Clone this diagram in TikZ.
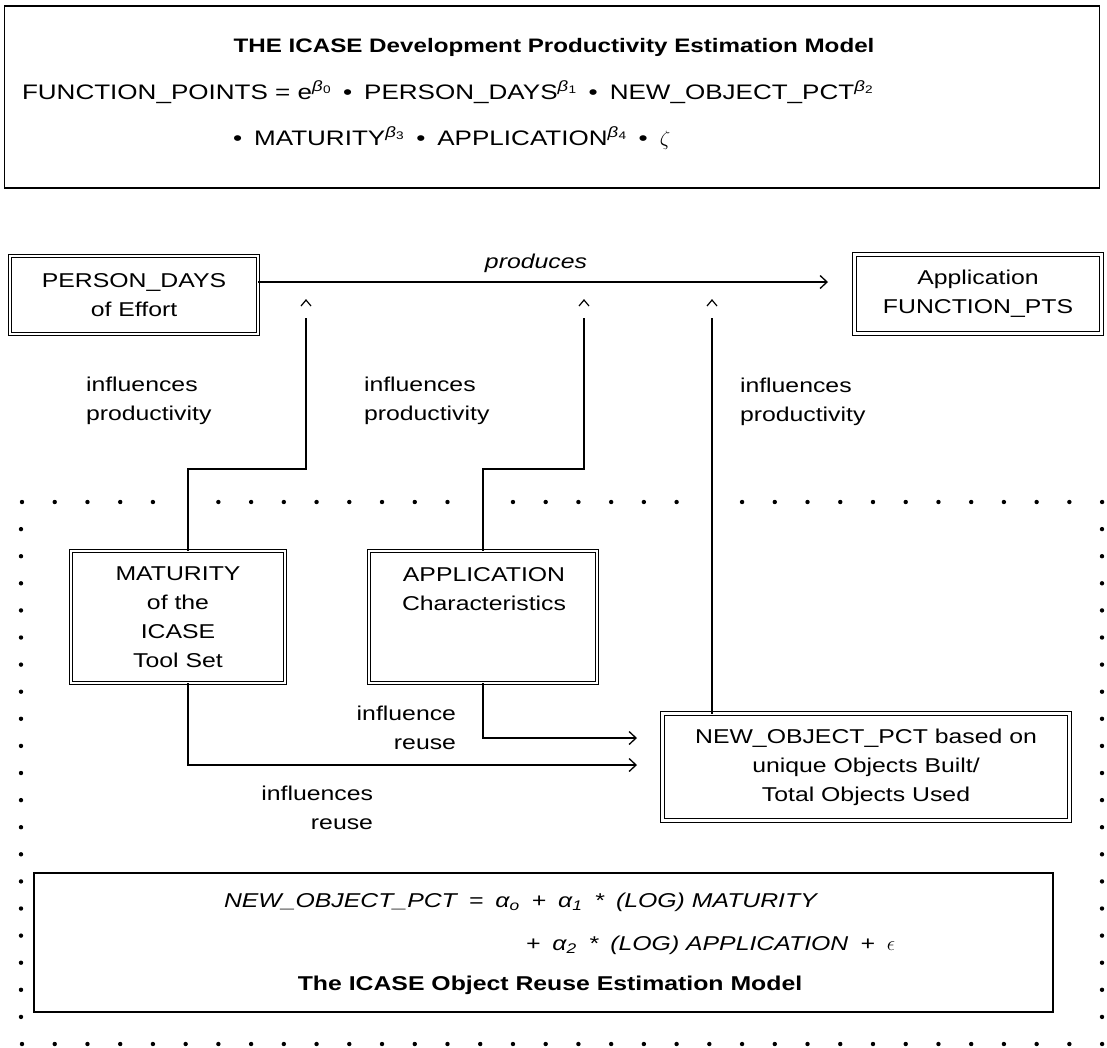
\documentclass[tikz,border=0pt]{standalone}
\usepackage{fontspec}
\setmainfont{Liberation Sans}[FakeStretch=1.24]
\usetikzlibrary{arrows.meta}
\newcommand\bexp[1]{\textsuperscript{\fontsize{15}{15}\selectfont\textit{β}\kern0.3pt\raisebox{-0.3ex}{\fontsize{11}{11}\selectfont #1}}}
\newcommand\asub[1]{\textit{α}\textsubscript{\itshape #1}}
\newcommand\gp{\hspace{12pt}}
\begin{document}
\begin{tikzpicture}[x=1pt,y=-1pt,
  every node/.style={font=\fontsize{20}{29}\selectfont, inner sep=0pt, outer sep=0pt},
  dbox/.style={draw, double, double distance=2.4pt, line width=0.9pt},
  sbox/.style={draw, line width=1.3pt},
  conn/.style={line width=1.3pt},
  arr/.style={line width=1.3pt, -{Straight Barb[length=7pt,width=13pt,line width=1.3pt]}},
  caret/.style={line width=1.2pt, line join=miter},
  itl/.style={font=\fontsize{20}{29}\selectfont\itshape},
  bld/.style={font=\fontsize{20}{29}\selectfont\bfseries},
  fml/.style={font=\fontsize{21}{29}\selectfont},
  dot/.style={fill=black}]
\useasboundingbox (0,0) rectangle (1107,1047);

% ---- top box: development productivity model
\node[sbox, minimum width=1095pt, minimum height=182pt] (tb) at (552,97) {};
\node[anchor=base, font=\fontsize{19.5}{29}\selectfont\bfseries] (title) at (554,52) {THE ICASE Development Productivity Estimation Model};
\node[fml, anchor=base west] (f1) at (22,99) {FUNCTION\_POINTS = e\bexp{0}\gp•\gp PERSON\_DAYS\bexp{1}\gp•\gp NEW\_OBJECT\_PCT\bexp{2}};
\node[fml, anchor=base west] (f2) at (233,145) {•\gp MATURITY\bexp{3}\gp•\gp APPLICATION\bexp{4}\gp•\gp$\zeta$};

% ---- main boxes
\node[dbox, minimum width=248pt, minimum height=78pt, align=center] (pd) at (134,295) {PERSON\_DAYS\\of Effort};
\node[dbox, minimum width=247pt, minimum height=79pt, align=center] (fp) at (978,294) {Application\\FUNCTION\_PTS};
\node[dbox, minimum width=214pt, minimum height=132pt, align=center] (mat) at (178,617) {MATURITY\\of the\\ICASE\\Tool Set};
\node[dbox, minimum width=228pt, minimum height=132pt] (app) at (483,617) {};
\node[align=center] (apptxt) at (484,589) {APPLICATION\\Characteristics};
\node[dbox, minimum width=407pt, minimum height=107pt, align=center] (nop) at (866,767) {NEW\_OBJECT\_PCT based on\\unique Objects Built/\\Total Objects Used};

% ---- bottom box: object reuse model
\node[sbox, minimum width=1019pt, minimum height=139pt] (bb) at (543.5,942.5) {};
\node[itl, anchor=base west] (g1) at (224,907) {NEW\_OBJECT\_PCT\gp=\gp\asub{o}\gp+\gp\asub{1}\gp*\gp(LOG) MATURITY};
\node[itl, anchor=base east] (g2) at (895,950) {+\gp\asub{2}\gp*\gp(LOG) APPLICATION\gp+\gp$\epsilon$};
\node[bld, anchor=base] (g3) at (550,990) {The ICASE Object Reuse Estimation Model};

% ---- helper coordinates
\coordinate (py) at (0,282);
\coordinate (fa) at (828,282);
\coordinate (h1) at (0,469);
\coordinate (mx) at (188,0);
\coordinate (c1) at (306,300);
\coordinate (c2) at (584,300);
\coordinate (c3) at (712,300);
\coordinate (t1) at (637,738);
\coordinate (t2) at (637,765);

% ---- connectors
\draw[arr] (pd.east |- py) -- (fa);
\node[itl, anchor=base] (prod) at (536,268) {produces};

\draw[conn] (mat.north -| mx) -- (mx |- h1) -- (c1 |- h1) -- ([yshift=-18pt]c1);
\draw[conn] (app.north) -- (app.north |- h1) -- (c2 |- h1) -- ([yshift=-18pt]c2);
\draw[conn] (nop.north -| c3) -- ([yshift=-18pt]c3);
\foreach \c in {c1,c2,c3}{
  \draw[caret] ([xshift=-5pt,yshift=-6pt]\c) -- (\c) -- ([xshift=5pt,yshift=-6pt]\c);
}
\draw[arr] (app.south) |- (t1);
\draw[arr] (mat.south -| mx) |- (t2);

% ---- labels
\node[align=left, anchor=west] (ip1) at (86,401) {influences\\productivity};
\node[align=left, anchor=west] (ip2) at (364,401) {influences\\productivity};
\node[align=left, anchor=west] (ip3) at (740,402) {influences\\productivity};
\node[align=right, anchor=east] (ir1) at (456,728) {influence\\reuse};
\node[align=right, anchor=east] (ir2) at (373,808) {influences\\reuse};

% ---- dotted boundary
\foreach \k in {0,...,33}{
  \ifnum\k=5 \else\ifnum\k=14 \else\ifnum\k=21 \else
    \fill[dot] ({22+32.73*\k},502) circle (2.2pt);
  \fi\fi\fi
  \fill[dot] ({22+32.73*\k},1044) circle (2.2pt);
}
\foreach \j in {1,...,19}{
  \fill[dot] (21,{502+27.1*\j}) circle (2.2pt);
  \fill[dot] (1102,{502+27.1*\j}) circle (2.2pt);
}
\end{tikzpicture}
\end{document}
